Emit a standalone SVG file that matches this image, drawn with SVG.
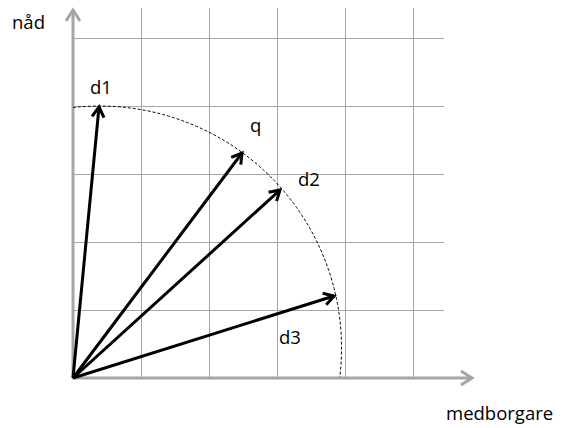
<svg xmlns="http://www.w3.org/2000/svg" width="567" height="428" viewBox="0 0 567 428">
<style>
.grid line{stroke:#A6A6A6;stroke-width:1;fill:none}
.axis{stroke:#A6A6A6;stroke-width:3;fill:none}
.vec{stroke:#000;stroke-width:3;fill:none}
.arc{stroke:#000;stroke-width:1;fill:none;stroke-dasharray:3 2}
text{font-family:"Open Sans","Liberation Sans",sans-serif;font-size:18.5px;fill:#000}
</style>
<defs>
<marker id="ah" markerUnits="userSpaceOnUse" viewBox="-14 -9 18 18" markerWidth="18" markerHeight="18" refX="0" refY="0" orient="auto">
<path d="M-10,-6 L0,0 L-10,6" fill="none" stroke="#000" stroke-width="3"/>
</marker>
<marker id="gh" markerUnits="userSpaceOnUse" viewBox="-14 -9 18 18" markerWidth="18" markerHeight="18" refX="0" refY="0" orient="auto">
<path d="M-11,-7 L0,0 L-11,7" fill="none" stroke="#A6A6A6" stroke-width="3"/>
</marker>
</defs>
<g id="grid" class="grid">
<line x1="141.5" y1="8" x2="141.5" y2="378"/>
<line x1="209.5" y1="8" x2="209.5" y2="378"/>
<line x1="277.5" y1="8" x2="277.5" y2="378"/>
<line x1="345.5" y1="8" x2="345.5" y2="378"/>
<line x1="413.5" y1="8" x2="413.5" y2="378"/>
<line x1="73" y1="38.5" x2="444" y2="38.5"/>
<line x1="73" y1="106.5" x2="444" y2="106.5"/>
<line x1="73" y1="174.5" x2="444" y2="174.5"/>
<line x1="73" y1="242.5" x2="444" y2="242.5"/>
<line x1="73" y1="310.5" x2="444" y2="310.5"/>
</g>
<g id="axes">
<line class="axis" x1="73" y1="378" x2="73" y2="10" marker-end="url(#gh)"/>
<line class="axis" x1="72" y1="378" x2="472" y2="378" marker-end="url(#gh)"/>
</g>
<path id="circle" class="arc" d="M73,107.5 A242,242 0 0 1 339.8,377"/>
<g id="connectors">
<line class="vec" x1="73" y1="378" x2="99" y2="107" marker-end="url(#ah)"/>
<line class="vec" x1="73" y1="378" x2="242" y2="153" marker-end="url(#ah)"/>
<line class="vec" x1="73" y1="378" x2="280" y2="190" marker-end="url(#ah)"/>
<line class="vec" x1="73" y1="378" x2="334" y2="296" marker-end="url(#ah)"/>
</g>
<g id="labels">
<text x="12" y="29">nåd</text>
<text x="90" y="94">d1</text>
<text x="250" y="132">q</text>
<text x="298" y="186">d2</text>
<text x="279" y="344">d3</text>
<text x="446" y="420">medborgare</text>
</g>
</svg>
